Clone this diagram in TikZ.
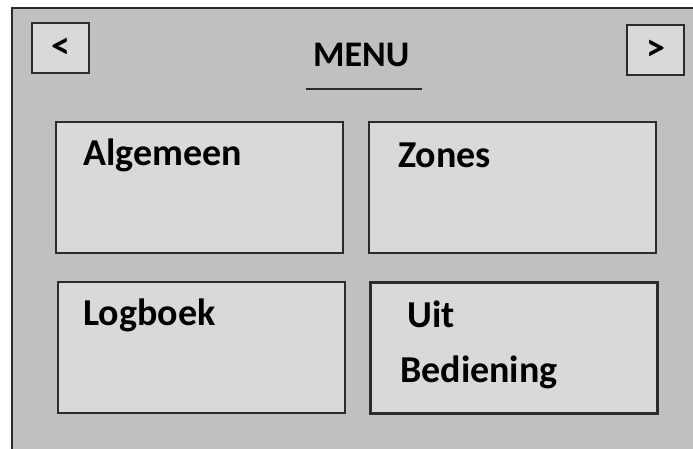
\documentclass[tikz,border=0pt]{standalone}
\usepackage{fontspec}
\setmainfont{Carlito}
\usepackage{tikz}
\usetikzlibrary{positioning}
\usepackage{xcolor}
\definecolor{panel}{HTML}{C0C0C0}
\definecolor{tile}{HTML}{D9D9D9}
\definecolor{edge}{HTML}{2B2B2B}

\tikzset{
  tilebox/.style={draw=edge, fill=tile, line width=2.2pt, minimum width=287pt, minimum height=131pt, inner sep=0pt},
  navbox/.style={draw=edge, fill=tile, line width=2.2pt, minimum width=57pt, minimum height=50pt, inner sep=0pt, font=\fontsize{38}{40}\selectfont\bfseries},
  tiletext/.style={anchor=base west, inner sep=0pt, font=\fontsize{38}{42}\selectfont\bfseries}
}

\begin{document}
\begin{tikzpicture}[x=1pt, y=-1pt]
       \useasboundingbox (0,0) rectangle (693,448);
       \clip (0,0) rectangle (693,448);
       \fill[white] (0,0) rectangle (693,448);
       \draw[draw=edge, fill=panel, line width=2.2pt] (12,8) rectangle (720,480);

       % navigation
       \node[navbox] (prev) at (60.5,48)  {<};
       \node[navbox] (next) at (655.5,50) {>};
       \node[tiletext, font=\fontsize{36}{40}\selectfont\bfseries] (menu) at (313,66) {MENU};
       \coordinate (ulL) at (306,89);
       \coordinate (ulR) at (422,89);
       \draw[edge, line width=2pt] (ulL) -- (ulR);

       % tiles
       \node[tilebox] (algemeen) at (199.5,187.5) {};
       \node[tilebox] (zones)    at (512.5,187.5) {};
       \node[tilebox] (logboek)  at (201.5,347.5) {};
       \node[tilebox] (uit)      at (514,348)     {};

       \node[tiletext] (talgemeen) at (83,165)  {Algemeen};
       \node[tiletext] (tzones)    at (398,167) {Zones};
       \node[tiletext] (tlogboek)  at (83,325)  {Logboek};
       \node[tiletext] (tuit)      at (407,327) {Uit};
       \node[tiletext] (tbed)      at (400,382) {Bediening};
    \end{tikzpicture}
\end{document}
